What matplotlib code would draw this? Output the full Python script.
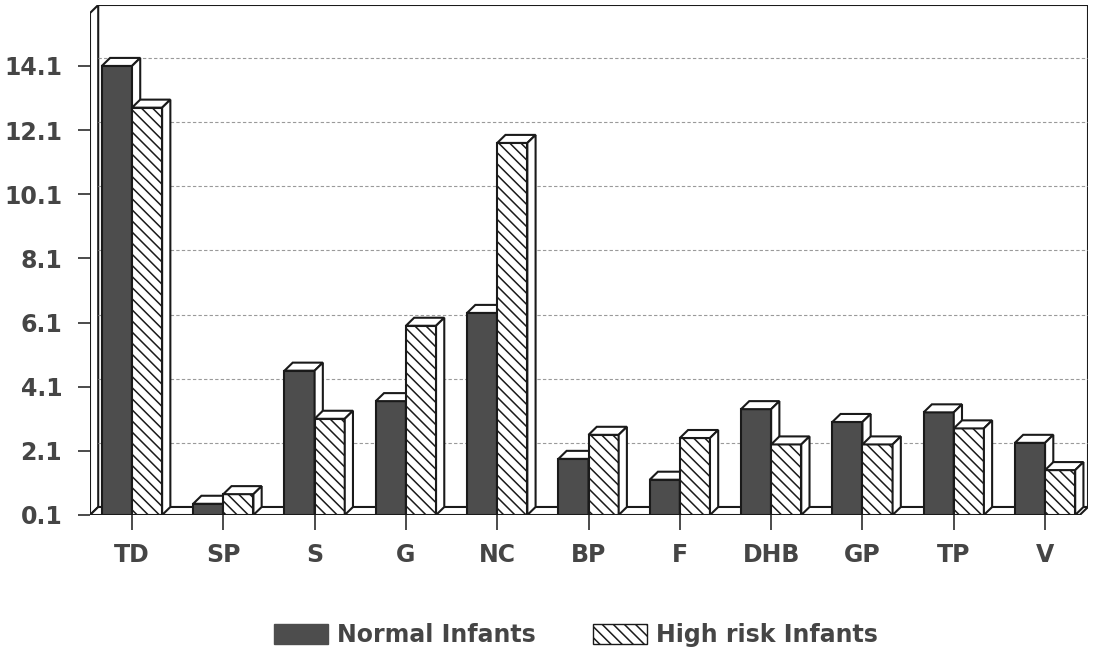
import matplotlib.pyplot as plt
from matplotlib.patches import Polygon, Patch
import numpy as np

categories = ['TD', 'SP', 'S', 'G', 'NC', 'BP', 'F', 'DHB', 'GP', 'TP', 'V']
normal = [14.1, 0.45, 4.6, 3.65, 6.4, 1.85, 1.2, 3.4, 3.0, 3.3, 2.35]
high_risk = [12.8, 0.75, 3.1, 6.0, 11.7, 2.6, 2.5, 2.3, 2.3, 2.8, 1.5]
yticks = [0.1, 2.1, 4.1, 6.1, 8.1, 10.1, 12.1, 14.1]

base = 0.1
top = 16.0
xmin, xmax = -0.46, 10.47
w = 0.33           # width of one bar
dx, dy = 0.09, 0.25  # depth offset for the 3d look
dark = '#4d4d4d'
edge = '#1a1a1a'
txt = '#454545'

plt.rcParams['font.family'] = ['DejaVu Sans']
plt.rcParams['hatch.linewidth'] = 1.1
plt.rcParams['hatch.color'] = edge

fig = plt.figure(figsize=(10.95, 6.58), dpi=100)
ax = fig.add_axes([90 / 1095, 143 / 658, 998 / 1095, 510 / 658])
ax.set_xlim(xmin, xmax)
ax.set_ylim(base, top)
for s in ax.spines.values():
    s.set_visible(False)

# walls and floor
ax.add_patch(Polygon([(xmin, base), (xmin + dx, base + dy), (xmin + dx, top),
                      (xmin, top - dy)], closed=True, fc='white', ec=edge,
                     lw=1.5, zorder=1))
ax.add_patch(Polygon([(xmin, base), (xmax - dx, base), (xmax, base + dy),
                      (xmin + dx, base + dy)], closed=True, fc='white', ec=edge,
                     lw=1.5, zorder=1))
ax.plot([xmin + dx, xmax, xmax], [top, top, base + dy], color=edge, lw=1.5,
        zorder=1, solid_capstyle='butt')

# gridlines on the back wall
for t in yticks[1:]:
    ax.plot([xmin + dx, xmax], [t + dy, t + dy], color='#9a9a9a', lw=0.8,
            ls=(0, (3, 2)), zorder=1)


def draw_bar(x0, v, front_kw, z):
    ax.bar(x0, v - base, width=w, bottom=base, align='edge', ec=edge, lw=1.5,
           zorder=z, **front_kw)
    # top face
    ax.add_patch(Polygon([(x0, v), (x0 + w, v), (x0 + w + dx, v + dy),
                          (x0 + dx, v + dy)], closed=True, fc='white', ec=edge,
                         lw=1.5, zorder=z))
    # side face
    ax.add_patch(Polygon([(x0 + w, base), (x0 + w + dx, base + dy),
                          (x0 + w + dx, v + dy), (x0 + w, v)], closed=True,
                         fc='white', ec=edge, lw=1.5, zorder=z))


x = np.arange(len(categories))
for i in range(len(categories)):
    draw_bar(x[i] - w, normal[i], dict(color=dark), 3 + 2 * i)
    draw_bar(x[i], high_risk[i], dict(fc='white', hatch='\\\\\\'), 4 + 2 * i)

ax.set_xticks(x)
ax.set_xticklabels(categories)
ax.set_yticks(yticks)
ax.set_yticklabels([f'{t:.1f}' for t in yticks])
ax.tick_params(axis='x', length=11, width=1.1, color=edge, pad=9,
               labelsize=17, labelcolor=txt)
ax.tick_params(axis='y', length=9, width=1.1, color=edge, pad=11,
               labelsize=17, labelcolor=txt)
for lab in ax.get_xticklabels() + ax.get_yticklabels():
    lab.set_fontweight('bold')

handles = [Patch(fc=dark, ec=dark, label='Normal Infants'),
           Patch(fc='white', ec=edge, hatch='\\\\\\', label='High risk Infants')]
leg = fig.legend(handles=handles, loc='center', bbox_to_anchor=(0.526, 0.035),
                 ncol=2, frameon=False, handlelength=2.3, handleheight=0.9,
                 columnspacing=2.4, handletextpad=0.4,
                 prop={'size': 17, 'weight': 'bold'})
for t in leg.get_texts():
    t.set_color(txt)

fig.savefig('out.png', dpi=100)
